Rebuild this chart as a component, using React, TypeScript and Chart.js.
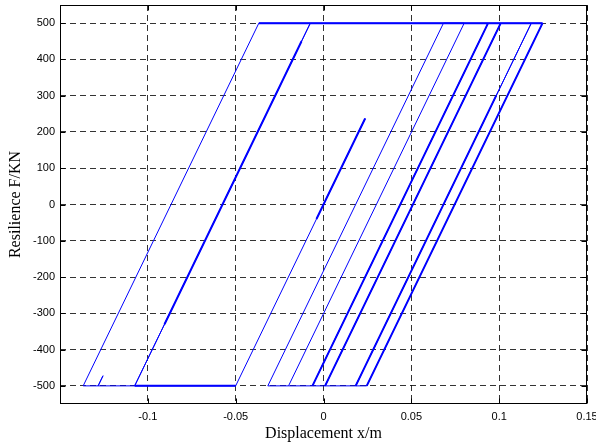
import React, { useEffect, useRef } from 'react';
import { Chart, registerables } from 'chart.js';

Chart.register(...registerables);

// Axis ticks
const X_TICKS = [-0.15, -0.1, -0.05, 0, 0.05, 0.1, 0.15];
const Y_TICKS = [-500, -400, -300, -200, -100, 0, 100, 200, 300, 400, 500];

// Hysteresis path: displacement x (m) and resilience F (kN), in drawing order
const PATH_X = [
  0, 0.0237, -0.05, -0.1283, -0.1255, -0.1283, -0.1368,
  -0.0368, -0.0075, -0.1075, -0.0075, 0.0801,
  -0.0199, -0.0317, 0.0683, 0.0937,
  -0.0063, 0.0937, 0.1009,
  0.0009, 0.1009, 0.1183,
  0.0183, 0.1183, 0.1247,
  0.0246, -0.0199,
];
const PATH_F = [
  0, 237, -500, -500, -472, -500, -500,
  500, 500, -500, 500, 500,
  -500, -500, 500, 500,
  -500, 500, 500,
  -500, 500, 500,
  -500, 500, 500,
  -500, -500,
];

// Retraced (heavier) stretches of the loop; null separates stretches
const HEAVY_X = [
  -0.004, 0.0237, null,
  -0.0905, -0.0125, null,
  -0.0063, 0.0937, null,
  0.0009, 0.1009, null,
  0.0183, 0.0983, null,
  0.0246, 0.1247, null,
  -0.1075, -0.05, null,
  -0.0368, 0.1247,
];
const HEAVY_F = [
  -40, 237, null,
  -330, 450, null,
  -500, 500, null,
  -500, 500, null,
  -500, 300, null,
  -500, 500, null,
  -500, -500, null,
  500, 500,
];

const X_TITLE = 'Displacement x/m';
const Y_TITLE = 'Resilience F/KN';

const toPoints = (xs: (number | null)[], ys: (number | null)[]) =>
  xs.map((x, i) => ({ x: x === null ? NaN : x, y: ys[i] }));

const framePlugin = {
  id: 'frameTicks',
  afterDraw(chart: any) {
    const { ctx, chartArea: a, scales } = chart;
    const L = Math.round(a.left) + 0.5;
    const R = Math.round(a.right) - 0.5;
    const T = Math.round(a.top) + 0.5;
    const B = Math.round(a.bottom) - 0.5;
    ctx.save();
    ctx.strokeStyle = '#000';
    ctx.lineWidth = 1;
    ctx.setLineDash([]);
    ctx.strokeRect(L, T, R - L, B - T);
    const len = 5;
    ctx.beginPath();
    X_TICKS.forEach((v) => {
      const px = Math.round(scales.x.getPixelForValue(v)) + 0.5;
      ctx.moveTo(px, B);
      ctx.lineTo(px, B - len);
      ctx.moveTo(px, T);
      ctx.lineTo(px, T + len);
    });
    Y_TICKS.forEach((v) => {
      const py = Math.round(scales.y.getPixelForValue(v)) + 0.5;
      ctx.moveTo(L, py);
      ctx.lineTo(L + len, py);
      ctx.moveTo(R, py);
      ctx.lineTo(R - len, py);
    });
    ctx.stroke();
    ctx.restore();
  },
};

const fmtX = (v: number) => {
  const r = Math.round(v * 100) / 100;
  if (r === -0.15) return '';
  return String(r);
};

export default function App() {
  const ref = useRef<HTMLCanvasElement>(null);

  useEffect(() => {
    document.body.style.margin = '0';
    const canvas = ref.current;
    if (!canvas) return;
    const chart = new Chart(canvas, {
      type: 'line',
      data: {
        datasets: [
          {
            data: toPoints(PATH_X, PATH_F) as any,
            borderColor: '#0000ff',
            borderWidth: 1,
            pointRadius: 0,
            tension: 0,
            fill: false,
          },
          {
            data: toPoints(HEAVY_X, HEAVY_F) as any,
            borderColor: '#0000ff',
            borderWidth: 2,
            pointRadius: 0,
            tension: 0,
            fill: false,
            spanGaps: false,
          },
        ],
      },
      options: {
        animation: false,
        responsive: false,
        maintainAspectRatio: false,
        layout: { padding: { top: 5, right: 9, left: 0, bottom: 0 } },
        plugins: {
          legend: { display: false },
          tooltip: { enabled: false },
        },
        scales: {
          x: {
            type: 'linear',
            min: -0.15,
            max: 0.15,
            afterBuildTicks: (s: any) => {
              s.ticks = X_TICKS.map((v) => ({ value: v }));
            },
            afterFit: (s: any) => {
              s.height = 39;
              s.paddingLeft = 0;
              s.paddingRight = 0;
            },
            ticks: {
              autoSkip: false,
              maxRotation: 0,
              padding: 6,
              color: '#000',
              font: { family: 'Liberation Sans', size: 11 },
              callback: (v: any) => fmtX(Number(v)),
            },
            grid: {
              color: 'rgba(0,0,0,0.8)',
              lineWidth: 1,
              drawTicks: false,
            },
            border: { display: false, dash: [6, 4] },
            title: {
              display: true,
              text: X_TITLE,
              color: '#000',
              font: { family: 'Liberation Serif', size: 16 },
              padding: { top: 0, bottom: 0 },
            },
          },
          y: {
            type: 'linear',
            min: -550,
            max: 550,
            afterBuildTicks: (s: any) => {
              s.ticks = Y_TICKS.map((v) => ({ value: v }));
            },
            afterFit: (s: any) => {
              s.width = 60;
              s.paddingTop = 0;
              s.paddingBottom = 0;
            },
            ticks: {
              autoSkip: false,
              padding: 5,
              color: '#000',
              font: { family: 'Liberation Sans', size: 11 },
              callback: (v: any) => String(v),
            },
            grid: {
              color: 'rgba(0,0,0,0.8)',
              lineWidth: 1,
              drawTicks: false,
            },
            border: { display: false, dash: [6, 4] },
            title: {
              display: true,
              text: Y_TITLE,
              color: '#000',
              font: { family: 'Liberation Serif', size: 16 },
              padding: 6,
            },
          },
        },
      },
      plugins: [framePlugin],
    } as any);
    return () => chart.destroy();
  }, []);

  return (
    <div style={{ position: 'absolute', left: 0, top: 0, width: 596, height: 443, background: '#fff' }}>
      <canvas ref={ref} width={596} height={443} style={{ display: 'block', width: 596, height: 443 }} />
    </div>
  );
}
